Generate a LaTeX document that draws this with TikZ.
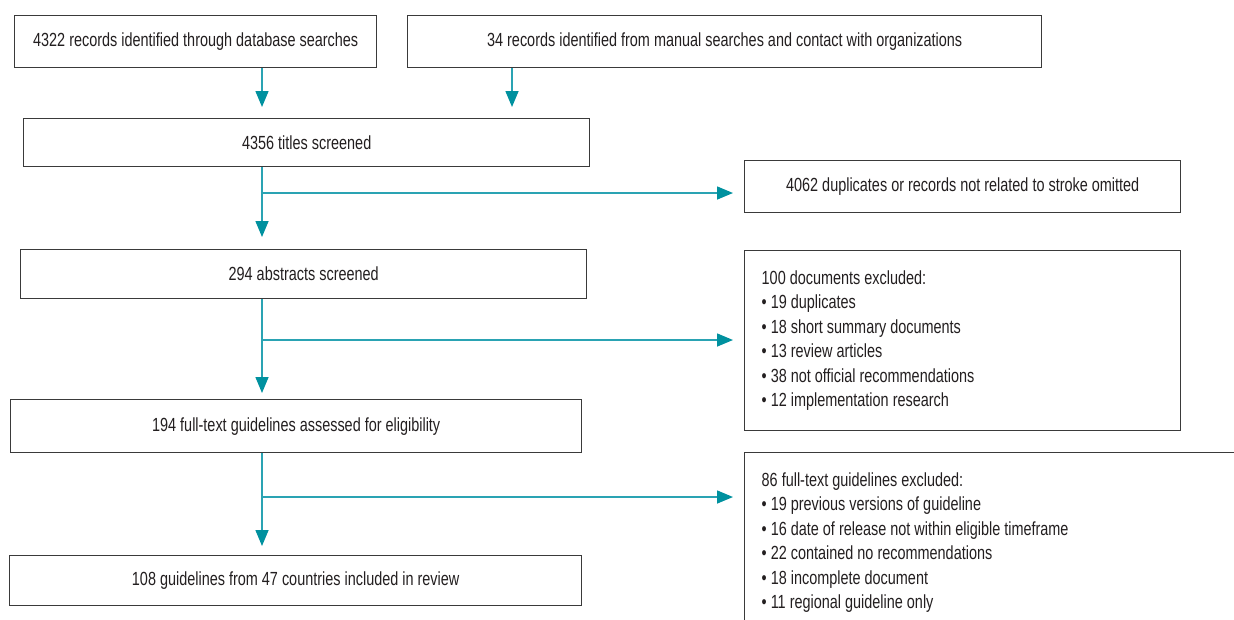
\documentclass[tikz,border=0pt]{standalone}
\usepackage{fontspec}
\setmainfont{Liberation Sans}[FakeStretch=0.76]
\usetikzlibrary{arrows.meta}
\definecolor{teal1}{HTML}{2AA3B3}
\definecolor{teal2}{HTML}{00919F}
\definecolor{boxline}{HTML}{3A3A3A}
\definecolor{txt}{HTML}{231F20}
\tikzset{
  box/.style={draw=boxline, line width=1.4pt, inner sep=0pt, anchor=north west,
    font=\fontsize{19}{24.5}\selectfont, text=txt, align=center},
  listbox/.style={box, align=flush left, inner xsep=17pt},
  arr/.style={draw=teal1, line width=1.5pt,
    -{Triangle[width=13pt,length=16pt,fill=teal2,color=teal2]}},
}
\begin{document}
\begin{tikzpicture}[x=1pt,y=-1pt]
\useasboundingbox (0,0) rectangle (1234,619);
\clip (0,0) rectangle (1234,619);
\fill[white] (0,0) rectangle (1234,619);

\node[box, minimum width=362pt, minimum height=52pt] (b1) at (14,15) {4322 records identified through database searches};
\node[box, minimum width=634pt, minimum height=52pt] (b2) at (407,15) {34 records identified from manual searches and contact with organizations};
\node[box, minimum width=566pt, minimum height=48pt] (b3) at (23,118) {4356 titles screened};
\node[box, minimum width=436pt, minimum height=52pt] (b4) at (744,160) {4062 duplicates or records not related to stroke omitted};
\node[box, minimum width=566pt, minimum height=49pt] (b5) at (20,249) {294 abstracts screened};
\node[listbox, minimum width=436pt, minimum height=180pt, text width=402pt] (b6) at (744,250) {100 documents excluded:\\
• 19 duplicates\\
• 18 short summary documents\\
• 13 review articles\\
• 38 not official recommendations\\
• 12 implementation research};
\node[box, minimum width=571pt, minimum height=53pt] (b7) at (10,399) {194 full-text guidelines assessed for eligibility};
\node[listbox, minimum width=520pt, minimum height=180pt, text width=486pt] (b8) at (744,452) {86 full-text guidelines excluded:\\
• 19 previous versions of guideline\\
• 16 date of release not within eligible timeframe\\
• 22 contained no recommendations\\
• 18 incomplete document\\
• 11 regional guideline only};
\node[box, minimum width=572pt, minimum height=50pt] (b9) at (9,555) {108 guidelines from 47 countries included in review};

\coordinate (spine) at (262,0);
\coordinate (side) at (512,0);
\coordinate (j1) at (262,193);
\coordinate (j2) at (262,340);
\coordinate (j3) at (262,497);

\draw[arr, shorten >=11pt] (b1.south -| spine) -- (b3.north -| spine);
\draw[arr, shorten >=11pt] (b2.south -| side) -- (b3.north -| side);
\draw[arr, shorten >=12pt] (b3.south -| spine) -- (b5.north -| spine);
\draw[arr, shorten >=11pt] (j1) -- (j1 -| b4.west);
\draw[arr, shorten >=6pt] (b5.south -| spine) -- (b7.north -| spine);
\draw[arr, shorten >=11pt] (j2) -- (j2 -| b6.west);
\draw[arr, shorten >=9pt] (b7.south -| spine) -- (b9.north -| spine);
\draw[arr, shorten >=11pt] (j3) -- (j3 -| b8.west);
\end{tikzpicture}
\end{document}
